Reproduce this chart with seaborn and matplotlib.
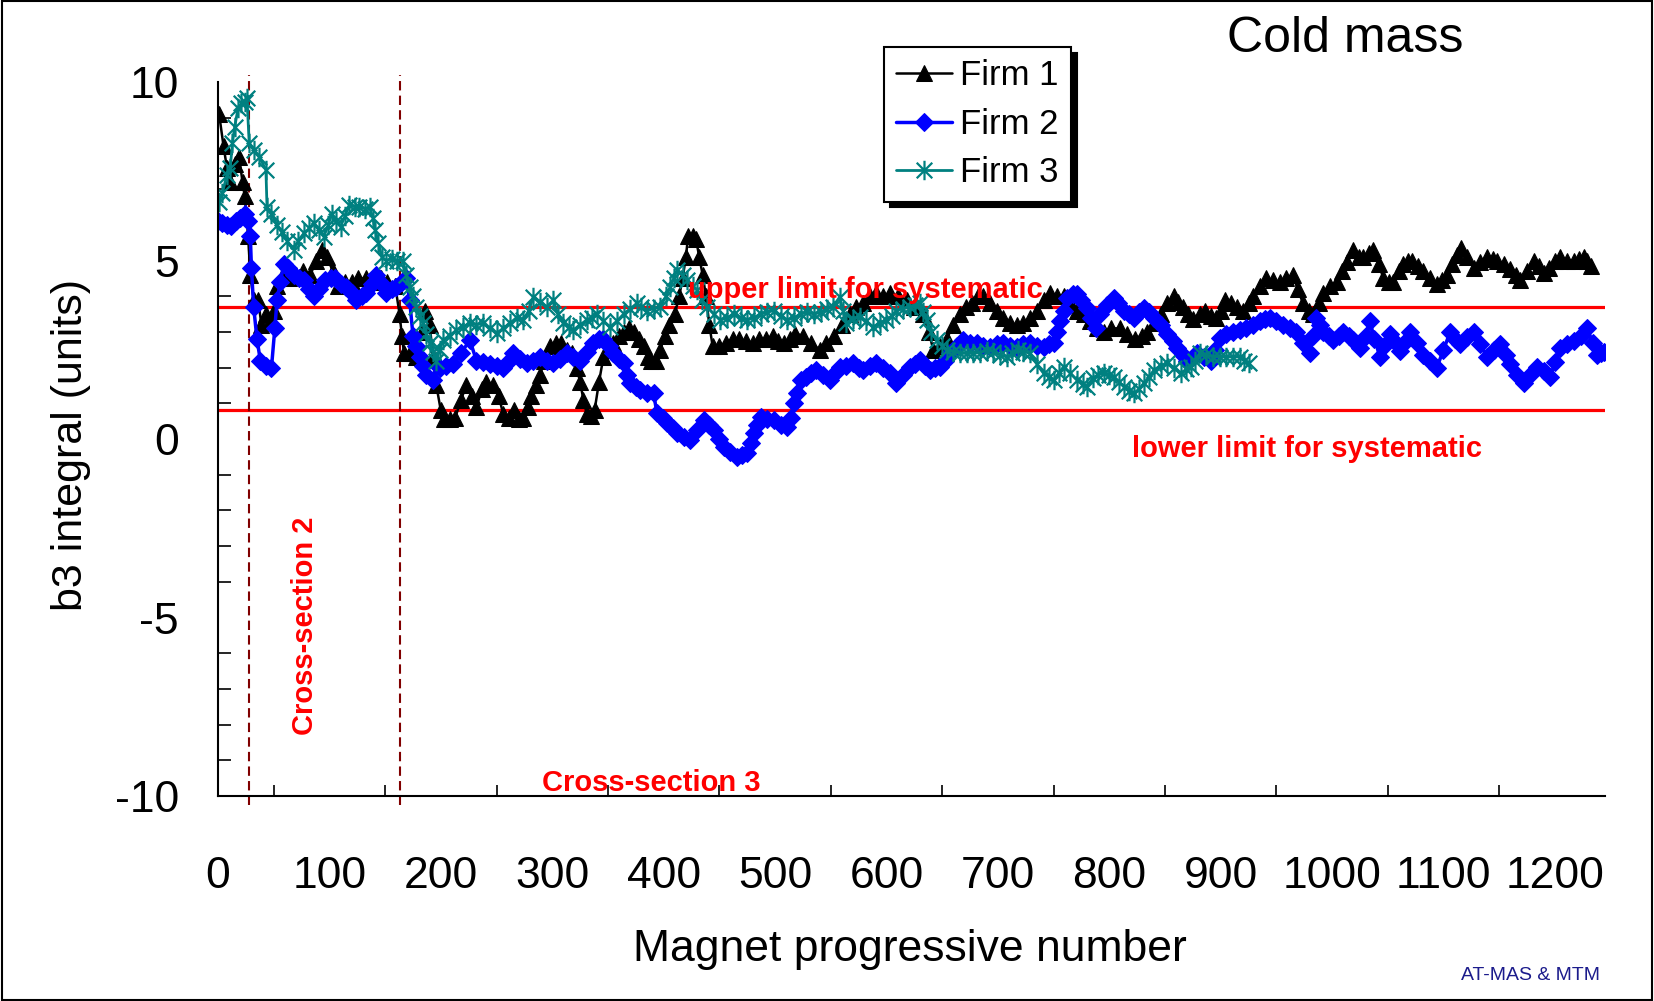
import numpy as np
import pandas as pd
import matplotlib.pyplot as plt
import seaborn as sns
from matplotlib.path import Path
from matplotlib.patches import Rectangle
from matplotlib.ticker import MultipleLocator

# ---- data ----
firm1_x = [1, 5, 8, 11, 15, 19, 22, 24, 27, 29,
           32, 36, 39, 43, 47, 50, 53, 58, 64, 70,
           76, 83, 88, 93, 98, 103, 108, 114, 120, 126,
           133, 140, 146, 152, 159, 163, 165, 167, 172, 178,
           183, 186, 190, 193, 196, 200, 203, 208, 213, 218,
           223, 228, 232, 237, 241, 247, 252, 256, 261, 266,
           270, 274, 278, 281, 285, 289, 293, 298, 303, 308,
           313, 318, 322, 325, 328, 331, 335, 338, 342, 346,
           350, 355, 360, 364, 369, 373, 378, 382, 386, 389,
           393, 397, 401, 405, 410, 414, 417, 420, 422, 426,
           429, 432, 435, 438, 441, 444, 450, 456, 462, 468,
           474, 480, 486, 492, 498, 503, 508, 513, 518, 525,
           532, 540, 546, 553, 560, 567, 573, 579, 585, 591,
           597, 603, 610, 618, 625, 633, 638, 642, 648, 654,
           660, 666, 671, 677, 682, 687, 693, 699, 705, 711,
           717, 723, 729, 735, 741, 747, 753, 759, 765, 771,
           777, 783, 789, 795, 802, 810, 816, 823, 829, 834,
           840, 846, 852, 858, 862, 866, 871, 875, 881, 886,
           891, 896, 900, 904, 909, 915, 920, 925, 929, 935,
           941, 947, 953, 959, 965, 969, 974, 979, 983, 988,
           992, 998, 1004, 1009, 1013, 1019, 1024, 1028, 1033, 1037,
           1042, 1046, 1051, 1055, 1060, 1064, 1068, 1072, 1077, 1082,
           1088, 1094, 1099, 1103, 1108, 1112, 1116, 1121, 1127, 1133,
           1139, 1144, 1148, 1154, 1160, 1165, 1169, 1175, 1181, 1186,
           1190, 1195, 1200, 1205, 1211, 1217, 1222, 1226, 1229, 1232]
firm1_y = [9.1, 8.2, 7.6, 7.2, 7.7, 7.9, 7.2, 6.8, 5.7, 4.6,
           3.9, 3.9, 3.2, 3.5, 3.3, 3.6, 4.3, 4.6, 4.5, 4.6,
           4.7, 4.6, 5.0, 5.3, 5.1, 4.7, 4.3, 4.4, 4.4, 4.5,
           4.5, 4.4, 4.5, 4.4, 4.3, 3.5, 2.9, 2.4, 2.4, 2.3,
           3.0, 3.6, 3.2, 2.3, 1.5, 0.8, 0.55, 0.55, 0.6, 1.1,
           1.5, 1.2, 0.9, 1.4, 1.6, 1.5, 1.2, 0.7, 0.6, 0.8,
           0.55, 0.6, 0.9, 1.2, 1.5, 1.8, 2.2, 2.6, 2.7, 2.7,
           2.5, 2.4, 2.0, 1.6, 1.1, 0.7, 0.65, 0.8, 1.6, 2.3,
           2.5, 2.7, 2.9, 3.0, 3.1, 3.0, 2.8, 2.6, 2.3, 2.2,
           2.2, 2.5, 2.9, 3.2, 3.5, 4.0, 4.5, 5.1, 5.7, 5.7,
           5.6, 5.1, 4.6, 4.0, 3.2, 2.6, 2.6, 2.7, 2.8, 2.8,
           2.75, 2.7, 2.8, 2.8, 2.9, 2.75, 2.7, 2.8, 2.95, 2.9,
           2.7, 2.5, 2.7, 2.9, 3.2, 3.5, 3.7, 3.8, 4.0, 4.1,
           4.0, 4.1, 4.0, 3.9, 3.7, 3.5, 3.0, 2.5, 2.6, 2.8,
           3.2, 3.5, 3.7, 3.8, 4.0, 4.0, 3.8, 3.6, 3.4, 3.25,
           3.2, 3.25, 3.4, 3.6, 3.9, 4.1, 4.0, 4.0, 3.8, 3.6,
           3.5, 3.3, 3.1, 3.0, 3.1, 3.1, 2.95, 2.8, 2.9, 3.0,
           3.25, 3.5, 3.8, 4.0, 3.85, 3.7, 3.5, 3.35, 3.5, 3.6,
           3.45, 3.4, 3.6, 3.9, 3.8, 3.7, 3.6, 3.8, 4.0, 4.3,
           4.5, 4.45, 4.4, 4.5, 4.6, 4.2, 3.8, 3.6, 3.5, 3.8,
           4.1, 4.3, 4.4, 4.7, 4.95, 5.3, 5.1, 5.1, 5.2, 5.3,
           4.9, 4.5, 4.4, 4.4, 4.7, 4.9, 5.0, 5.0, 4.85, 4.7,
           4.5, 4.35, 4.45, 4.6, 4.9, 5.15, 5.35, 5.1, 4.8, 4.95,
           5.1, 5.05, 5.0, 4.9, 4.75, 4.6, 4.45, 4.7, 5.0, 4.85,
           4.65, 4.8, 5.0, 5.1, 5.0, 5.0, 5.05, 5.1, 5.0, 4.85]

firm2_x = [0, 4, 8, 12, 16, 20, 24, 27, 29, 30,
           32, 35, 38, 43, 48, 51, 53, 56, 59, 63,
           68, 73, 77, 82, 86, 91, 96, 101, 105, 110,
           115, 120, 124, 129, 133, 138, 142, 147, 151, 156,
           160, 165, 169, 172, 175, 178, 181, 184, 187, 193,
           199, 205, 211, 218, 226, 232, 238, 244, 250, 256,
           261, 265, 271, 277, 283, 289, 295, 301, 307, 313,
           319, 325, 331, 337, 342, 346, 351, 355, 360, 364,
           367, 370, 375, 379, 385, 391, 394, 399, 403, 408,
           412, 418, 424, 430, 436, 441, 445, 450, 454, 460,
           466, 470, 475, 478, 481, 484, 487, 493, 499, 505,
           511, 514, 517, 520, 523, 528, 532, 537, 543, 549,
           554, 558, 564, 570, 575, 579, 585, 591, 597, 603,
           609, 615, 621, 626, 630, 635, 639, 644, 648, 653,
           657, 663, 669, 675, 681, 687, 693, 699, 705, 711,
           717, 723, 729, 735, 741, 746, 750, 753, 756, 759,
           762, 767, 771, 775, 780, 784, 788, 792, 798, 804,
           808, 813, 818, 822, 827, 831, 836, 840, 846, 852,
           857, 861, 866, 870, 875, 879, 885, 891, 895, 899,
           905, 911, 917, 923, 929, 935, 940, 944, 950, 956,
           962, 968, 974, 980, 983, 986, 989, 992, 997, 1001,
           1006, 1010, 1015, 1019, 1022, 1025, 1030, 1034, 1038, 1043,
           1047, 1052, 1057, 1061, 1066, 1070, 1076, 1082, 1088, 1094,
           1100, 1106, 1110, 1115, 1121, 1127, 1133, 1139, 1145, 1151,
           1156, 1160, 1166, 1172, 1178, 1184, 1190, 1196, 1200, 1205,
           1211, 1217, 1223, 1229, 1234, 1238, 1241, 1244]
firm2_y = [6.1, 6.05, 6.0, 5.97, 6.1, 6.2, 6.3, 6.1, 5.7, 4.8,
           3.7, 2.8, 2.2, 2.05, 2.0, 3.1, 3.9, 4.4, 4.9, 4.8,
           4.6, 4.5, 4.45, 4.2, 4.0, 4.2, 4.45, 4.5, 4.5, 4.35,
           4.25, 4.1, 3.9, 4.0, 4.1, 4.35, 4.6, 4.35, 4.1, 4.2,
           4.25, 4.4, 4.5, 3.9, 2.9, 2.6, 2.3, 2.05, 1.8, 1.65,
           2.0, 2.05, 2.1, 2.4, 2.77, 2.2, 2.15, 2.1, 2.05, 2.0,
           2.2, 2.4, 2.25, 2.12, 2.2, 2.3, 2.2, 2.12, 2.25, 2.4,
           2.3, 2.2, 2.45, 2.7, 2.8, 2.8, 2.6, 2.4, 2.25, 2.12,
           1.8, 1.56, 1.45, 1.37, 1.3, 1.28, 0.72, 0.6, 0.44, 0.3,
           0.16, 0.05, -0.03, 0.25, 0.53, 0.4, 0.25, 0.0, -0.22, -0.35,
           -0.5, -0.45, -0.4, -0.1, 0.16, 0.4, 0.63, 0.55, 0.53, 0.4,
           0.34, 0.6, 1.0, 1.3, 1.65, 1.75, 1.85, 1.93, 1.8, 1.65,
           1.85, 2.03, 2.05, 2.12, 2.0, 1.93, 2.05, 2.12, 2.0, 1.84,
           1.56, 1.8, 2.03, 2.1, 2.22, 2.05, 1.93, 2.0, 2.03, 2.2,
           2.4, 2.6, 2.77, 2.7, 2.68, 2.6, 2.59, 2.65, 2.68, 2.6,
           2.59, 2.65, 2.68, 2.6, 2.59, 2.65, 2.68, 3.0, 3.3, 3.6,
           3.95, 4.05, 4.05, 3.9, 3.67, 3.4, 3.1, 3.5, 3.75, 3.95,
           3.8, 3.58, 3.5, 3.4, 3.55, 3.67, 3.55, 3.4, 3.2, 2.93,
           2.75, 2.55, 2.35, 2.2, 2.3, 2.4, 2.3, 2.2, 2.5, 2.84,
           2.95, 3.0, 3.05, 3.1, 3.2, 3.3, 3.35, 3.4, 3.3, 3.2,
           3.1, 3.0, 2.7, 2.4, 2.9, 3.4, 3.2, 3.0, 2.9, 2.77,
           2.9, 3.0, 2.9, 2.77, 2.65, 2.55, 2.9, 3.3, 2.8, 2.3,
           2.6, 2.93, 2.7, 2.46, 2.75, 3.0, 2.7, 2.36, 2.2, 2.0,
           2.5, 3.0, 2.8, 2.65, 2.85, 3.0, 2.65, 2.3, 2.5, 2.65,
           2.35, 2.1, 1.8, 1.56, 1.8, 2.03, 1.9, 1.75, 2.15, 2.55,
           2.65, 2.74, 2.9, 3.1, 2.7, 2.36, 2.4, 2.45]

firm3_x = [1, 4, 8, 11, 13, 15, 18, 21, 24, 26,
           28, 32, 37, 43, 44, 48, 53, 57, 62, 68,
           72, 77, 82, 86, 91, 95, 99, 102, 106, 110,
           114, 118, 123, 127, 132, 136, 139, 141, 144, 147,
           151, 156, 161, 166, 169, 172, 175, 178, 181, 184,
           187, 190, 193, 196, 199, 202, 208, 214, 220, 226,
           232, 238, 244, 250, 256, 262, 268, 274, 279, 283,
           289, 295, 301, 305, 310, 315, 319, 325, 331, 336,
           340, 346, 352, 358, 364, 370, 376, 380, 385, 391,
           397, 402, 406, 409, 412, 417, 421, 426, 430, 434,
           439, 445, 451, 457, 463, 469, 475, 481, 487, 493,
           499, 505, 511, 517, 523, 529, 535, 541, 547, 552,
           558, 561, 564, 570, 576, 582, 588, 594, 600, 605,
           609, 615, 621, 626, 630, 633, 636, 640, 645, 650,
           654, 660, 666, 672, 678, 684, 690, 696, 702, 708,
           713, 718, 723, 729, 735, 741, 746, 750, 755, 759,
           765, 771, 776, 780, 785, 790, 795, 800, 804, 809,
           813, 818, 822, 827, 831, 836, 840, 846, 852, 858,
           864, 869, 873, 877, 881, 887, 893, 899, 905, 911,
           917, 921, 925]
firm3_y = [6.65, 6.9, 7.4, 7.6, 8.3, 8.75, 9.26, 9.4, 9.45, 9.55,
           8.3, 8.1, 7.9, 7.55, 6.5, 6.3, 6.0, 5.8, 5.55, 5.3,
           5.55, 5.76, 5.9, 6.04, 5.85, 5.67, 6.0, 6.3, 6.1, 5.95,
           6.25, 6.56, 6.5, 6.5, 6.45, 6.5, 6.2, 5.86, 5.5, 5.1,
           5.0, 5.05, 5.0, 5.0, 4.6, 4.27, 4.0, 3.7, 3.45, 3.24,
           2.95, 2.68, 2.45, 2.2, 2.5, 2.77, 2.9, 3.05, 3.15, 3.24,
           3.2, 3.24, 3.1, 2.96, 3.1, 3.24, 3.4, 3.33, 3.6, 3.98,
           3.85, 3.7, 3.89, 3.5, 3.24, 3.15, 3.05, 3.2, 3.33, 3.4,
           3.5, 3.3, 3.14, 3.3, 3.5, 3.65, 3.8, 3.7, 3.6, 3.65,
           3.7, 4.0, 4.27, 4.5, 4.73, 4.6, 4.45, 4.3, 4.17, 3.9,
           3.7, 3.5, 3.33, 3.4, 3.5, 3.4, 3.33, 3.4, 3.5, 3.55,
           3.6, 3.45, 3.33, 3.4, 3.5, 3.55, 3.5, 3.55, 3.65, 3.7,
           3.98, 3.6, 3.24, 3.35, 3.42, 3.3, 3.14, 3.25, 3.33, 3.45,
           3.6, 3.65, 3.7, 3.75, 3.8, 3.55, 3.33, 3.0, 2.77, 2.6,
           2.49, 2.45, 2.4, 2.4, 2.4, 2.42, 2.48, 2.45, 2.35, 2.3,
           2.4, 2.49, 2.45, 2.4, 2.1, 1.84, 1.75, 1.65, 1.85, 2.03,
           1.85, 1.65, 1.55, 1.47, 1.7, 1.8, 1.84, 1.8, 1.75, 1.6,
           1.47, 1.35, 1.28, 1.4, 1.56, 1.75, 1.93, 2.05, 2.12, 2.0,
           1.84, 1.95, 2.03, 2.2, 2.4, 2.35, 2.3, 2.3, 2.3, 2.3,
           2.3, 2.2, 2.12]

upper_limit = 3.7
lower_limit = 0.8
section_changes = [28, 163]

# ---- style ----
sns.set_style("white")
plt.rcParams['font.family'] = ['Liberation Sans', 'DejaVu Sans']
plt.rcParams['axes.unicode_minus'] = False
plt.rcParams['text.color'] = 'black'
plt.rcParams['xtick.color'] = 'black'
plt.rcParams['ytick.color'] = 'black'

fig = plt.figure(figsize=(16.54, 10.01), dpi=100)
ax = fig.add_axes([0.1318, 0.2048, 0.8386, 0.7132])

# asterisk marker like the spreadsheet one
star = Path([(0, -1), (0, 1), (-0.8, -0.8), (0.8, 0.8), (-0.8, 0.8), (0.8, -0.8)],
            [Path.MOVETO, Path.LINETO, Path.MOVETO, Path.LINETO, Path.MOVETO, Path.LINETO])

ax.axhline(upper_limit, color='red', lw=2.3, zorder=1)
ax.axhline(lower_limit, color='red', lw=2.3, zorder=1)
for xc in section_changes:
    ax.axvline(xc, ymin=-0.012, ymax=1.01, color='#800000', lw=1.5,
               ls=(0, (4.5, 2.5)), clip_on=False, zorder=1)

sns.lineplot(x=firm1_x, y=firm1_y, ax=ax, color='black', lw=1.8, marker='^',
             ms=12, mec='black', mfc='black', label='Firm 1',
             estimator=None, errorbar=None, sort=False)
sns.lineplot(x=firm2_x, y=firm2_y, ax=ax, color='#0000ff', lw=2.5, marker='D',
             ms=9, mec='#0000ff', mfc='#0000ff', label='Firm 2',
             estimator=None, errorbar=None, sort=False)
sns.lineplot(x=firm3_x, y=firm3_y, ax=ax, color='#008080', lw=2.0, marker=star,
             ms=14, mec='#008080', mew=1.6, label='Firm 3',
             estimator=None, errorbar=None, sort=False)

ax.set_xlim(0, 1245)
ax.set_ylim(-10, 10)
ax.xaxis.set_major_locator(MultipleLocator(100))
ax.xaxis.set_minor_locator(MultipleLocator(50))
ax.yaxis.set_major_locator(MultipleLocator(5))
ax.yaxis.set_minor_locator(MultipleLocator(1))
ax.tick_params(axis='both', which='both', direction='in', colors='black')
ax.tick_params(axis='x', which='major', length=11, width=1.2, pad=43, labelsize=32)
ax.tick_params(axis='x', which='minor', length=8, width=1.2)
ax.tick_params(axis='y', which='both', length=9, width=1.2, pad=28, labelsize=32)
ax.tick_params(axis='y', which='minor', left=True)
ax.tick_params(axis='x', which='minor', bottom=True)
for s in ['top', 'right']:
    ax.spines[s].set_visible(False)
for s in ['left', 'bottom']:
    ax.spines[s].set_color('black')
    ax.spines[s].set_linewidth(1.5)
ax.set_xlabel('')
ax.set_ylabel('')

fig.text(71 / 1654, 1 - 445 / 1001, 'b3 integral (units)', rotation=90,
         ha='center', va='center', fontsize=31, color='black')
fig.text(910 / 1654, 1 - 950 / 1001, 'Magnet progressive number',
         ha='center', va='center', fontsize=32, color='black')
fig.text(0.742, 0.961, 'Cold mass', ha='left', va='center', fontsize=36,
         color='black')
fig.text(1461 / 1654, 1 - 976 / 1001, 'AT-MAS & MTM', ha='left', va='center',
         fontsize=14, color='#1c1c8c')

lab = dict(color='red', fontweight='bold', fontsize=21)
ax.text(422, 4.17, 'upper limit for systematic', ha='left', va='center', **lab)
ax.text(820, -0.28, 'lower limit for systematic', ha='left', va='center', **lab)
ax.text(78, -5.24, 'Cross-section 2', rotation=90, ha='center', va='center', **lab)
ax.text(291, -9.63, 'Cross-section 3', ha='left', va='center', **lab)

leg = ax.legend(loc='upper left', bbox_to_anchor=(884 / 1654, 1 - 47 / 1001),
                bbox_transform=fig.transFigure, frameon=True, fancybox=False,
                edgecolor='black', framealpha=1, fontsize=25,
                shadow={'ox': 4, 'oy': -4, 'color': 'black', 'alpha': 1},
                handlelength=1.6, handletextpad=0.25, borderpad=0.35,
                labelspacing=0.45, borderaxespad=0)
leg.get_frame().set_linewidth(1.5)
for t in leg.get_texts():
    t.set_color('black')

fig.add_artist(Rectangle((0.001, 0.001), 0.998, 0.998, transform=fig.transFigure,
                         fill=False, ec='black', lw=1.5))

fig.savefig('out.png', dpi=100)
